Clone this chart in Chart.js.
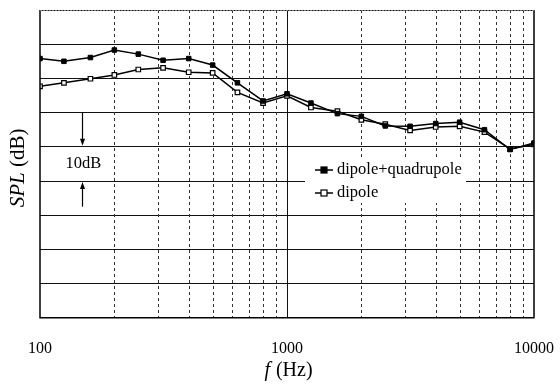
<!DOCTYPE html>
<html>
<head>
<meta charset="utf-8">
<script src="https://cdn.jsdelivr.net/npm/chart.js@4.4.1/dist/chart.umd.min.js"></script>
<style>
  html, body { margin: 0; padding: 0; background: #fff; }
  #wrap { width: 560px; height: 385px; }
</style>
</head>
<body>
<div id="wrap"><canvas id="c" width="560" height="385"></canvas></div>
<script>
// ---- data ----
const frequencies = [100, 125, 160, 200, 250, 315, 400, 500, 630, 800, 1000, 1250, 1600, 2000, 2500, 3150, 4000, 5000, 6300, 8000, 10000];
const dipoleQuadrupole = [75.8, 75.0, 76.1, 78.3, 77.1, 75.3, 75.8, 73.9, 68.7, 63.4, 65.5, 62.8, 59.7, 58.9, 56.1, 56.0, 56.8, 57.2, 55.0, 49.2, 51.1];
const dipole = [67.7, 68.7, 69.9, 71.0, 72.6, 73.1, 71.8, 71.6, 65.9, 62.8, 64.9, 61.5, 60.4, 57.9, 56.6, 54.8, 55.8, 56.0, 54.3, 49.4, 50.7];
const seriesNames = ['dipole+quadrupole', 'dipole'];
const xTickLabels = [100, 1000, 10000];
const yMin = 0, yMax = 90, yStep = 10;
const annotationText = '10dB';
const annotationFreq = 148;
const annotationLevels = [60, 50, 40, 32.5];   // arrow from 60 down to 50, arrow from 32.5 up to 40

const SERIF = '"Liberation Serif", "DejaVu Serif", serif';

function toPoints(ys) { return frequencies.map((f, i) => ({ x: f, y: ys[i] })); }

// vertical grid: dashed minor lines, solid decade lines
const vGridPlugin = {
  id: 'vgrid',
  beforeDatasetsDraw(chart) {
    const { ctx, chartArea: a, scales: { x } } = chart;
    ctx.save();
    ctx.lineWidth = 1;
    x.ticks.forEach(t => {
      const v = t.value;
      if (v <= x.min || v >= x.max) return;
      const px = Math.round(x.getPixelForValue(v)) + 0.5;
      const decade = Math.abs(Math.log10(v) - Math.round(Math.log10(v))) < 1e-9;
      ctx.strokeStyle = decade ? '#111' : '#333';
      ctx.setLineDash(decade ? [] : [3, 3]);
      ctx.beginPath(); ctx.moveTo(px, a.top); ctx.lineTo(px, a.bottom); ctx.stroke();
    });
    ctx.restore();
  }
};

function arrow(ctx, x, y0, y1) {
  const dir = y1 > y0 ? 1 : -1;
  ctx.beginPath(); ctx.moveTo(x, y0); ctx.lineTo(x, y1 - dir * 5); ctx.stroke();
  ctx.beginPath();
  ctx.moveTo(x, y1); ctx.lineTo(x - 2.5, y1 - dir * 7); ctx.lineTo(x + 2.5, y1 - dir * 7); ctx.closePath(); ctx.fill();
}

const decorPlugin = {
  id: 'decor',
  afterDatasetsDraw(chart) {
    const { ctx, chartArea: a, scales: { x, y } } = chart;
    ctx.save();
    // frame
    ctx.setLineDash([]);
    ctx.strokeStyle = '#000'; ctx.lineWidth = 1.5;
    ctx.beginPath();
    ctx.moveTo(a.left, a.top); ctx.lineTo(a.left, a.bottom); ctx.lineTo(a.right, a.bottom); ctx.lineTo(a.right, a.top);
    ctx.stroke();
    ctx.strokeStyle = '#777'; ctx.lineWidth = 1; ctx.setLineDash([2, 1]);
    ctx.beginPath(); ctx.moveTo(a.left, a.top + 0.5); ctx.lineTo(a.right, a.top + 0.5); ctx.stroke();
    ctx.setLineDash([]);

    // 10dB annotation
    const ax = Math.round(x.getPixelForValue(annotationFreq)) + 0.5;
    ctx.strokeStyle = '#000'; ctx.fillStyle = '#000'; ctx.lineWidth = 1.2;
    arrow(ctx, ax, y.getPixelForValue(annotationLevels[0]), y.getPixelForValue(annotationLevels[1]) - 1);
    arrow(ctx, ax, y.getPixelForValue(annotationLevels[3]), y.getPixelForValue(annotationLevels[2]) + 1);
    ctx.font = '16.5px ' + SERIF;
    ctx.textAlign = 'center'; ctx.textBaseline = 'middle';
    ctx.fillText(annotationText, ax + 1, (y.getPixelForValue(annotationLevels[1]) + y.getPixelForValue(annotationLevels[2])) / 2);

    // legend inside plot
    const bx = a.left + 265, by = a.top + 147, bw = 161, bh = 46;
    ctx.fillStyle = '#fff';
    ctx.fillRect(bx, by, bw, bh);
    chart.data.datasets.forEach((ds, i) => {
      const ly = by + 13 + i * 23;
      const lx0 = bx + 10, lx1 = bx + 28, lm = (lx0 + lx1) / 2;
      ctx.strokeStyle = '#000'; ctx.lineWidth = 1.5;
      ctx.beginPath(); ctx.moveTo(lx0, ly); ctx.lineTo(lx1, ly); ctx.stroke();
      ctx.fillStyle = ds.pointBackgroundColor;
      ctx.fillRect(lm - 3, ly - 3, 6, 6);
      ctx.lineWidth = 1.2; ctx.strokeRect(lm - 3, ly - 3, 6, 6);
      ctx.fillStyle = '#000';
      ctx.font = '16.5px ' + SERIF;
      ctx.textAlign = 'left'; ctx.textBaseline = 'middle';
      ctx.fillText(ds.label, lx1 + 4, ly);
    });

    // axis titles (italic variable + upright unit)
    ctx.fillStyle = '#000';
    ctx.textBaseline = 'middle'; ctx.textAlign = 'left';
    // x title
    const xi = 'italic 20px ' + SERIF, xn = '20px ' + SERIF;
    ctx.font = xi; const wf = ctx.measureText('f').width;
    ctx.font = xn; const wu = ctx.measureText(' (Hz)').width;
    let sx = (a.left + a.right) / 2 - (wf + wu) / 2 + 1;
    const ty = 371;
    ctx.font = xi; ctx.fillText('f', sx, ty);
    ctx.font = xn; ctx.fillText(' (Hz)', sx + wf + 1, ty);
    // y title
    ctx.translate(18, (a.top + a.bottom) / 2 + 4);
    ctx.rotate(-Math.PI / 2);
    const yi = 'italic 21px ' + SERIF, yn = '21px ' + SERIF;
    ctx.font = yi; const ws = ctx.measureText('SPL').width;
    ctx.font = yn; const wd = ctx.measureText(' (dB)').width;
    sx = -(ws + wd) / 2;
    ctx.font = yi; ctx.fillText('SPL', sx, 0);
    ctx.font = yn; ctx.fillText(' (dB)', sx + ws, 0);
    ctx.restore();
  }
};

new Chart(document.getElementById('c'), {
  type: 'line',
  data: {
    datasets: [
      {
        label: seriesNames[0],
        data: toPoints(dipoleQuadrupole),
        borderColor: '#000', borderWidth: 1.5,
        pointStyle: 'rect', pointRadius: 3.2,
        pointBackgroundColor: '#000', pointBorderColor: '#000', pointBorderWidth: 1,
        tension: 0
      },
      {
        label: seriesNames[1],
        data: toPoints(dipole),
        borderColor: '#000', borderWidth: 1.5,
        pointStyle: 'rect', pointRadius: 3.2,
        pointBackgroundColor: '#fff', pointBorderColor: '#000', pointBorderWidth: 1.2,
        tension: 0
      }
    ]
  },
  options: {
    responsive: false,
    animation: false,
    layout: { padding: { left: 40, right: 26, top: 10, bottom: 23 } },
    plugins: { legend: { display: false }, tooltip: { enabled: false }, title: { display: false } },
    scales: {
      x: {
        type: 'logarithmic',
        min: 100, max: 10000,
        afterBuildTicks(scale) {
          const t = [];
          for (let d = 100; d < 10000; d *= 10) for (let m = 1; m < 10; m++) t.push({ value: m * d });
          t.push({ value: 10000 });
          scale.ticks = t;
        },
        ticks: {
          autoSkip: false, maxRotation: 0, padding: 4,
          color: '#000', font: { family: SERIF, size: 16 },
          callback: (v) => xTickLabels.includes(v) ? String(v) : ''
        },
        grid: { display: true, drawOnChartArea: false, drawTicks: true, tickLength: 17, tickColor: 'rgba(0,0,0,0)' },
        border: { display: false }
      },
      y: {
        min: yMin, max: yMax,
        ticks: { display: false, stepSize: yStep },
        grid: { color: '#111', lineWidth: 1, drawTicks: false },
        border: { display: false }
      }
    }
  },
  plugins: [vGridPlugin, decorPlugin]
});
</script>
</body>
</html>
